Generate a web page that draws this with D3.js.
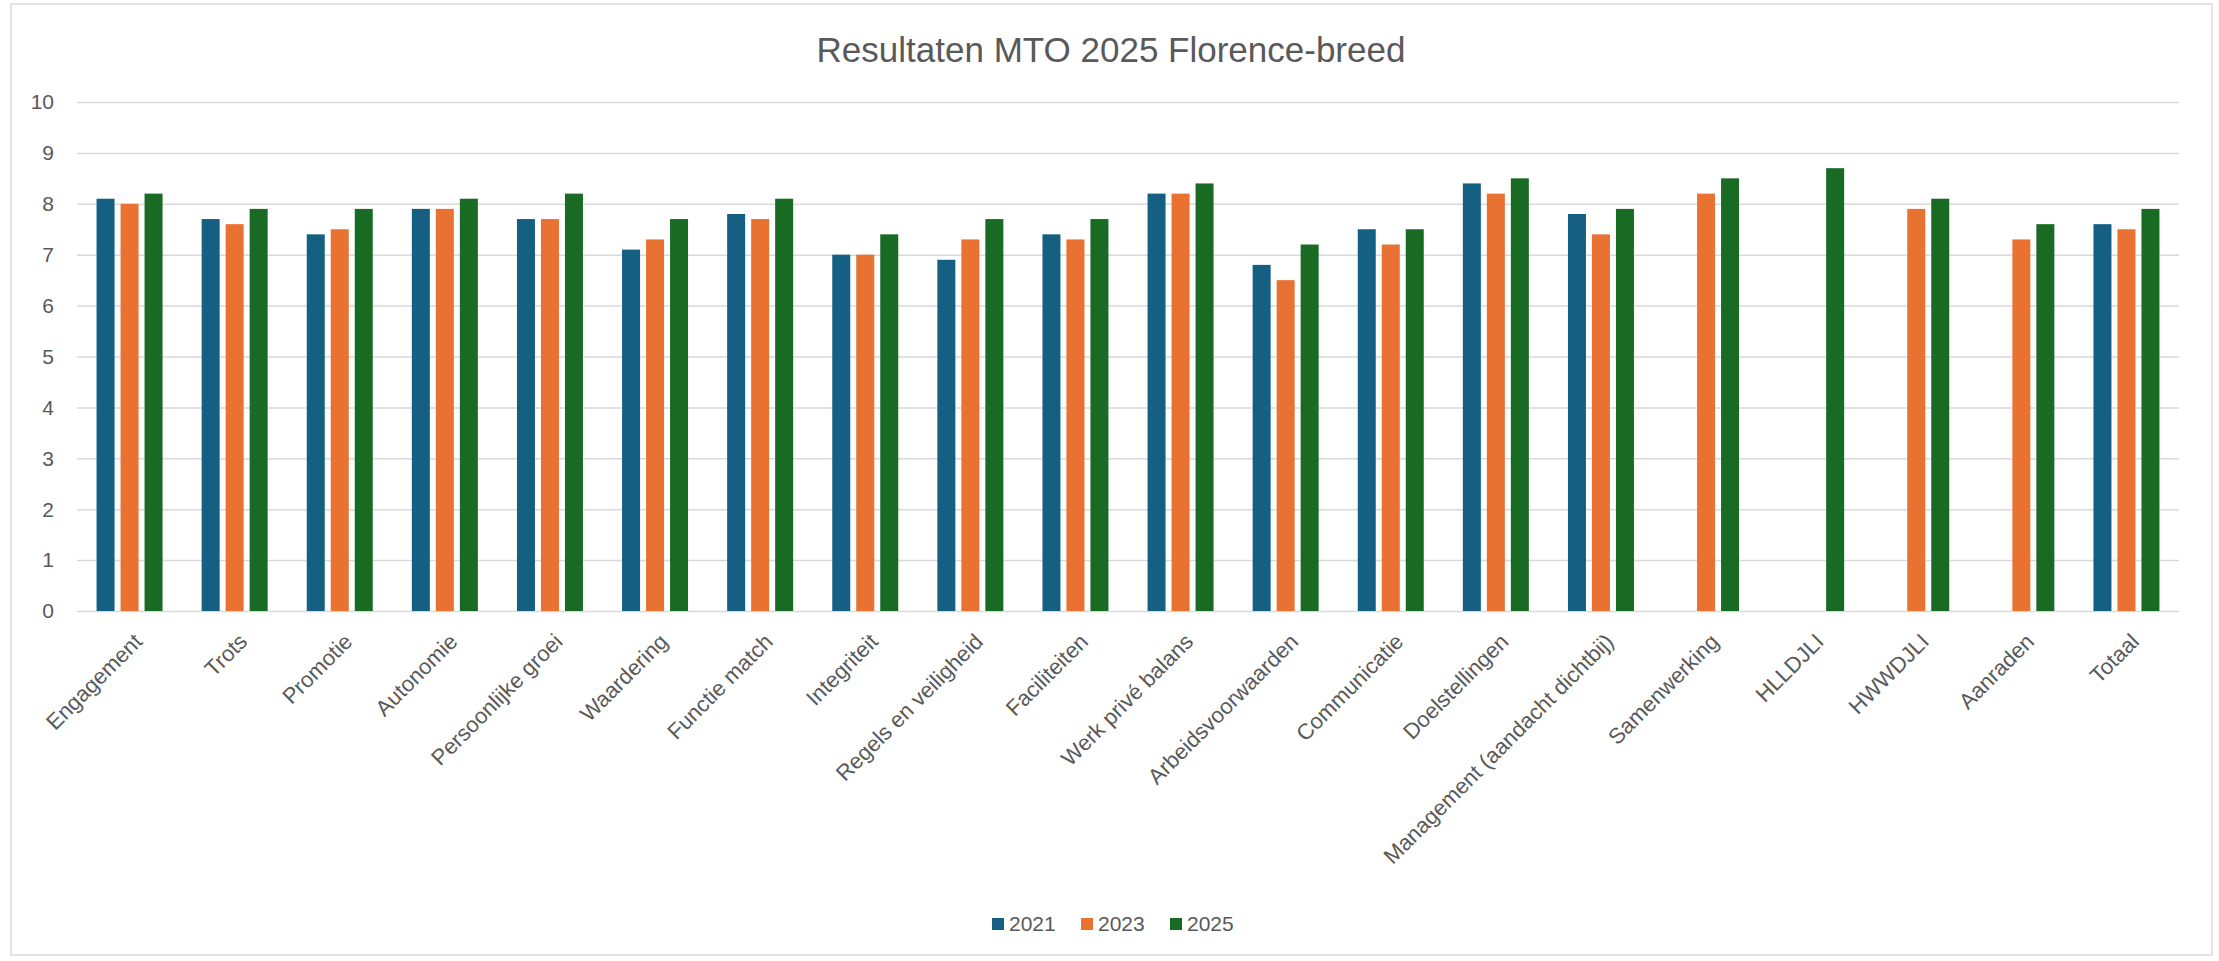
<!DOCTYPE html>
<html>
<meta charset="utf-8">
<head>
<title>Resultaten MTO 2025 Florence-breed</title>
<style>
body { margin: 0; background: #fff; }
text { font-family: "Liberation Sans", Arial, sans-serif; fill: #595959; }
.grid line { stroke: #d9d9d9; stroke-width: 1.5px; }
.grid path { display: none; }
</style>
</head>
<body>
<script src="https://d3js.org/d3.v7.min.js"></script>
<script>

var categories = ["Engagement", "Trots", "Promotie", "Autonomie", "Persoonlijke groei",
  "Waardering", "Functie match", "Integriteit", "Regels en veiligheid", "Faciliteiten",
  "Werk privé balans", "Arbeidsvoorwaarden", "Communicatie", "Doelstellingen",
  "Management (aandacht dichtbij)", "Samenwerking", "HLLDJLI", "HWWDJLI", "Aanraden", "Totaal"];

var years = ["2021", "2023", "2025"];

var values2021 = [8.1, 7.7, 7.4, 7.9, 7.7, 7.1, 7.8, 7.0, 6.9, 7.4, 8.2, 6.8, 7.5, 8.4, 7.8, null, null, null, null, 7.6];
var values2023 = [8.0, 7.6, 7.5, 7.9, 7.7, 7.3, 7.7, 7.0, 7.3, 7.3, 8.2, 6.5, 7.2, 8.2, 7.4, 8.2, null, 7.9, 7.3, 7.5];
var values2025 = [8.2, 7.9, 7.9, 8.1, 8.2, 7.7, 8.1, 7.4, 7.7, 7.7, 8.4, 7.2, 7.5, 8.5, 7.9, 8.5, 8.7, 8.1, 7.6, 7.9];

var yTicks = [0, 1, 2, 3, 4, 5, 6, 7, 8, 9, 10];
var colors = ["#156082", "#e97132", "#196b24"];

var width = 2219, height = 961;
var margin = {top: 102, right: 40, bottom: 350, left: 77};
var plot_w = width - margin.left - margin.right;
var plot_h = height - margin.top - margin.bottom;

var svg = d3.select("body").append("svg")
  .attr("width", width)
  .attr("height", height);

// chart frame
svg.append("rect")
  .attr("x", 11).attr("y", 4)
  .attr("width", 2201).attr("height", 951)
  .attr("fill", "#fff")
  .attr("stroke", "#d9d9d9")
  .attr("stroke-width", 1.5);

var g = svg.append("g")
  .attr("transform", "translate(" + margin.left + "," + margin.top + ")");

var x0 = d3.scaleBand().domain(categories).range([0, plot_w]).paddingInner(0).paddingOuter(0);
var x1 = d3.scaleBand().domain(years).range([x0.bandwidth() / 2 - 33, x0.bandwidth() / 2 + 33]).paddingInner(0.25).paddingOuter(0);
var y = d3.scaleLinear().domain([0, 10]).range([plot_h, 0]);

// gridlines
g.append("g")
  .attr("class", "grid")
  .call(d3.axisLeft(y).tickValues(yTicks).tickSize(-plot_w).tickFormat(""));

// y labels
g.append("g")
  .selectAll("text")
  .data(yTicks)
  .enter().append("text")
  .attr("x", -23)
  .attr("y", function(d) { return y(d); })
  .attr("dy", "0.35em")
  .attr("text-anchor", "end")
  .style("font-size", "21px")
  .text(function(d) { return d; });

// bars
var series = [values2021, values2023, values2025];
var rows = [];
series.forEach(function(vals, s) {
  vals.forEach(function(v, i) {
    if (v !== null) rows.push({cat: categories[i], year: years[s], value: v, s: s});
  });
});

g.selectAll(".bar")
  .data(rows)
  .enter().append("rect")
  .attr("class", "bar")
  .attr("x", function(d) { return x0(d.cat) + x1(d.year); })
  .attr("y", function(d) { return y(d.value); })
  .attr("width", x1.bandwidth())
  .attr("height", function(d) { return plot_h - y(d.value); })
  .attr("fill", function(d) { return colors[d.s]; });

// category labels
g.append("g")
  .selectAll("text")
  .data(categories)
  .enter().append("text")
  .attr("text-anchor", "end")
  .style("font-size", "22px")
  .attr("transform", function(d) {
    var cx = x0(d) + x0.bandwidth() / 2 + 14;
    return "translate(" + cx + "," + (plot_h + 32) + ") rotate(-45)";
  })
  .text(function(d) { return d; });

// title
svg.append("text")
  .attr("x", 1111)
  .attr("y", 62)
  .attr("text-anchor", "middle")
  .style("font-size", "35px")
  .text("Resultaten MTO 2025 Florence-breed");

// legend
var legend = svg.append("g").attr("transform", "translate(992,924)");
var item = legend.selectAll("g")
  .data(years)
  .enter().append("g")
  .attr("transform", function(d, i) { return "translate(" + (i * 89) + ",0)"; });
item.append("rect")
  .attr("x", 0).attr("y", -6)
  .attr("width", 12).attr("height", 12)
  .attr("fill", function(d, i) { return colors[i]; });
item.append("text")
  .attr("x", 17).attr("y", 0)
  .attr("dy", "0.35em")
  .style("font-size", "21px")
  .text(function(d) { return d; });

</script>
</body>
</html>
